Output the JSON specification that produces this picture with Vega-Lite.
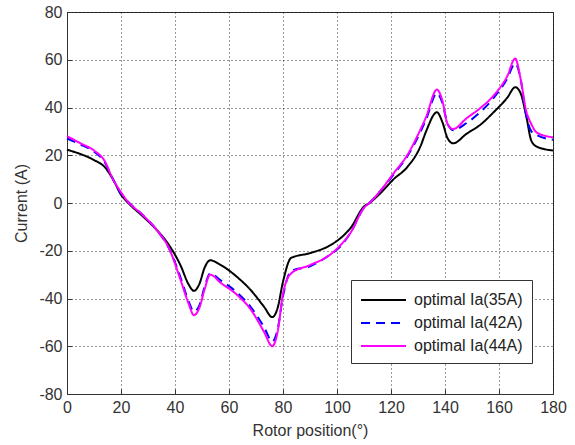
{
  "$schema": "https://vega.github.io/schema/vega-lite/v6.json",
  "autosize": {"type": "none"},
  "padding": {"left": 67, "top": 12, "right": 22, "bottom": 51},
  "width": 486,
  "height": 382,
  "background": "white",
  "config": {
    "font": "Liberation Sans",
    "view": {"stroke": "#333333", "strokeWidth": 1},
    "axis": {
      "labelFont": "Liberation Sans",
      "titleFont": "Liberation Sans",
      "labelFontSize": 16,
      "titleFontSize": 16,
      "titleFontWeight": "normal",
      "labelColor": "#333333",
      "titleColor": "#333333",
      "domainColor": "#333333",
      "tickColor": "#333333",
      "gridColor": "#000000",
      "gridDash": [1, 3],
      "gridOpacity": 0.8,
      "tickSize": -5,
      "labelExpr": "'' + datum.value"
    }
  },
  "data": {
    "values": [
      {"x": 0, "s": "optimal Ia(35A)", "y": 22.3}, {"x": 5, "s": "optimal Ia(35A)", "y": 20.5}, {"x": 10, "s": "optimal Ia(35A)", "y": 18}, {"x": 14, "s": "optimal Ia(35A)", "y": 15}, {"x": 17, "s": "optimal Ia(35A)", "y": 10}, {"x": 20, "s": "optimal Ia(35A)", "y": 3.5}, {"x": 22, "s": "optimal Ia(35A)", "y": 0.8}, {"x": 28, "s": "optimal Ia(35A)", "y": -5.5}, {"x": 33, "s": "optimal Ia(35A)", "y": -11}, {"x": 38, "s": "optimal Ia(35A)", "y": -18}, {"x": 42, "s": "optimal Ia(35A)", "y": -26}, {"x": 45, "s": "optimal Ia(35A)", "y": -34}, {"x": 47, "s": "optimal Ia(35A)", "y": -36.8}, {"x": 49, "s": "optimal Ia(35A)", "y": -34}, {"x": 51, "s": "optimal Ia(35A)", "y": -27}, {"x": 53, "s": "optimal Ia(35A)", "y": -24}, {"x": 57, "s": "optimal Ia(35A)", "y": -26}, {"x": 63, "s": "optimal Ia(35A)", "y": -31}, {"x": 68, "s": "optimal Ia(35A)", "y": -36.4}, {"x": 73, "s": "optimal Ia(35A)", "y": -43.5}, {"x": 76, "s": "optimal Ia(35A)", "y": -47.8}, {"x": 78, "s": "optimal Ia(35A)", "y": -44}, {"x": 80, "s": "optimal Ia(35A)", "y": -33}, {"x": 83, "s": "optimal Ia(35A)", "y": -23}, {"x": 90, "s": "optimal Ia(35A)", "y": -21}, {"x": 97, "s": "optimal Ia(35A)", "y": -18}, {"x": 101, "s": "optimal Ia(35A)", "y": -15}, {"x": 105, "s": "optimal Ia(35A)", "y": -10.5}, {"x": 110, "s": "optimal Ia(35A)", "y": -1.5}, {"x": 112, "s": "optimal Ia(35A)", "y": 0}, {"x": 116, "s": "optimal Ia(35A)", "y": 4}, {"x": 121, "s": "optimal Ia(35A)", "y": 10}, {"x": 126, "s": "optimal Ia(35A)", "y": 15}, {"x": 131, "s": "optimal Ia(35A)", "y": 24}, {"x": 133, "s": "optimal Ia(35A)", "y": 30}, {"x": 137, "s": "optimal Ia(35A)", "y": 38}, {"x": 139, "s": "optimal Ia(35A)", "y": 34}, {"x": 141, "s": "optimal Ia(35A)", "y": 27}, {"x": 143, "s": "optimal Ia(35A)", "y": 25}, {"x": 148, "s": "optimal Ia(35A)", "y": 29}, {"x": 153, "s": "optimal Ia(35A)", "y": 32.7}, {"x": 158, "s": "optimal Ia(35A)", "y": 38}, {"x": 163, "s": "optimal Ia(35A)", "y": 44}, {"x": 166, "s": "optimal Ia(35A)", "y": 48.5}, {"x": 168, "s": "optimal Ia(35A)", "y": 46}, {"x": 170, "s": "optimal Ia(35A)", "y": 37}, {"x": 172, "s": "optimal Ia(35A)", "y": 26}, {"x": 174, "s": "optimal Ia(35A)", "y": 23.6}, {"x": 180, "s": "optimal Ia(35A)", "y": 22},

      {"x": 0, "s": "optimal Ia(42A)", "y": 27}, {"x": 5, "s": "optimal Ia(42A)", "y": 24.5}, {"x": 10, "s": "optimal Ia(42A)", "y": 21.5}, {"x": 14, "s": "optimal Ia(42A)", "y": 17}, {"x": 17, "s": "optimal Ia(42A)", "y": 10}, {"x": 20, "s": "optimal Ia(42A)", "y": 4}, {"x": 22, "s": "optimal Ia(42A)", "y": 1.3}, {"x": 28, "s": "optimal Ia(42A)", "y": -5}, {"x": 33, "s": "optimal Ia(42A)", "y": -11}, {"x": 38, "s": "optimal Ia(42A)", "y": -19.5}, {"x": 42, "s": "optimal Ia(42A)", "y": -31}, {"x": 45, "s": "optimal Ia(42A)", "y": -41}, {"x": 47, "s": "optimal Ia(42A)", "y": -45.5}, {"x": 49, "s": "optimal Ia(42A)", "y": -43}, {"x": 51, "s": "optimal Ia(42A)", "y": -35}, {"x": 53, "s": "optimal Ia(42A)", "y": -29.5}, {"x": 57, "s": "optimal Ia(42A)", "y": -32.5}, {"x": 63, "s": "optimal Ia(42A)", "y": -37.5}, {"x": 68, "s": "optimal Ia(42A)", "y": -43.5}, {"x": 73, "s": "optimal Ia(42A)", "y": -52}, {"x": 76, "s": "optimal Ia(42A)", "y": -58}, {"x": 78, "s": "optimal Ia(42A)", "y": -53}, {"x": 80, "s": "optimal Ia(42A)", "y": -39}, {"x": 83, "s": "optimal Ia(42A)", "y": -28.5}, {"x": 90, "s": "optimal Ia(42A)", "y": -26.5}, {"x": 97, "s": "optimal Ia(42A)", "y": -22}, {"x": 101, "s": "optimal Ia(42A)", "y": -18.5}, {"x": 105, "s": "optimal Ia(42A)", "y": -12.5}, {"x": 110, "s": "optimal Ia(42A)", "y": -2}, {"x": 112, "s": "optimal Ia(42A)", "y": 0}, {"x": 116, "s": "optimal Ia(42A)", "y": 5}, {"x": 121, "s": "optimal Ia(42A)", "y": 12}, {"x": 126, "s": "optimal Ia(42A)", "y": 19.5}, {"x": 131, "s": "optimal Ia(42A)", "y": 30}, {"x": 133, "s": "optimal Ia(42A)", "y": 35}, {"x": 137, "s": "optimal Ia(42A)", "y": 46}, {"x": 139, "s": "optimal Ia(42A)", "y": 42}, {"x": 141, "s": "optimal Ia(42A)", "y": 33}, {"x": 143, "s": "optimal Ia(42A)", "y": 30.5}, {"x": 148, "s": "optimal Ia(42A)", "y": 33.5}, {"x": 153, "s": "optimal Ia(42A)", "y": 38}, {"x": 158, "s": "optimal Ia(42A)", "y": 44}, {"x": 163, "s": "optimal Ia(42A)", "y": 52}, {"x": 166, "s": "optimal Ia(42A)", "y": 58.5}, {"x": 168, "s": "optimal Ia(42A)", "y": 52}, {"x": 170, "s": "optimal Ia(42A)", "y": 37}, {"x": 172, "s": "optimal Ia(42A)", "y": 30}, {"x": 174, "s": "optimal Ia(42A)", "y": 28.5}, {"x": 180, "s": "optimal Ia(42A)", "y": 26.5},

      {"x": 0, "s": "optimal Ia(44A)", "y": 28}, {"x": 5, "s": "optimal Ia(44A)", "y": 25}, {"x": 10, "s": "optimal Ia(44A)", "y": 22}, {"x": 14, "s": "optimal Ia(44A)", "y": 17.5}, {"x": 17, "s": "optimal Ia(44A)", "y": 10}, {"x": 20, "s": "optimal Ia(44A)", "y": 4.5}, {"x": 22, "s": "optimal Ia(44A)", "y": 1.3}, {"x": 28, "s": "optimal Ia(44A)", "y": -5}, {"x": 33, "s": "optimal Ia(44A)", "y": -11}, {"x": 38, "s": "optimal Ia(44A)", "y": -19.5}, {"x": 42, "s": "optimal Ia(44A)", "y": -32}, {"x": 45, "s": "optimal Ia(44A)", "y": -42}, {"x": 47, "s": "optimal Ia(44A)", "y": -47}, {"x": 49, "s": "optimal Ia(44A)", "y": -44}, {"x": 51, "s": "optimal Ia(44A)", "y": -36}, {"x": 53, "s": "optimal Ia(44A)", "y": -30}, {"x": 57, "s": "optimal Ia(44A)", "y": -33.5}, {"x": 63, "s": "optimal Ia(44A)", "y": -38.5}, {"x": 68, "s": "optimal Ia(44A)", "y": -44.5}, {"x": 73, "s": "optimal Ia(44A)", "y": -54}, {"x": 76, "s": "optimal Ia(44A)", "y": -60}, {"x": 78, "s": "optimal Ia(44A)", "y": -54}, {"x": 80, "s": "optimal Ia(44A)", "y": -38}, {"x": 83, "s": "optimal Ia(44A)", "y": -29.5}, {"x": 90, "s": "optimal Ia(44A)", "y": -26}, {"x": 97, "s": "optimal Ia(44A)", "y": -22}, {"x": 101, "s": "optimal Ia(44A)", "y": -18}, {"x": 105, "s": "optimal Ia(44A)", "y": -12.5}, {"x": 110, "s": "optimal Ia(44A)", "y": -2}, {"x": 112, "s": "optimal Ia(44A)", "y": 0}, {"x": 116, "s": "optimal Ia(44A)", "y": 5}, {"x": 121, "s": "optimal Ia(44A)", "y": 12.5}, {"x": 126, "s": "optimal Ia(44A)", "y": 20}, {"x": 131, "s": "optimal Ia(44A)", "y": 31}, {"x": 133, "s": "optimal Ia(44A)", "y": 36}, {"x": 137, "s": "optimal Ia(44A)", "y": 47.5}, {"x": 139, "s": "optimal Ia(44A)", "y": 43}, {"x": 141, "s": "optimal Ia(44A)", "y": 33}, {"x": 143, "s": "optimal Ia(44A)", "y": 31}, {"x": 148, "s": "optimal Ia(44A)", "y": 35.5}, {"x": 153, "s": "optimal Ia(44A)", "y": 39.7}, {"x": 158, "s": "optimal Ia(44A)", "y": 45}, {"x": 163, "s": "optimal Ia(44A)", "y": 53}, {"x": 166, "s": "optimal Ia(44A)", "y": 60.5}, {"x": 168, "s": "optimal Ia(44A)", "y": 52}, {"x": 170, "s": "optimal Ia(44A)", "y": 39}, {"x": 172, "s": "optimal Ia(44A)", "y": 33}, {"x": 174, "s": "optimal Ia(44A)", "y": 29.5}, {"x": 180, "s": "optimal Ia(44A)", "y": 27.5}
    ]
  },
  "mark": {"type": "line", "strokeWidth": 2, "interpolate": "monotone"},
  "encoding": {
    "x": {
      "field": "x", "type": "quantitative",
      "scale": {"domain": [0, 180], "nice": false, "zero": false},
      "axis": {"title": "Rotor position(°)", "values": [0, 20, 40, 60, 80, 100, 120, 140, 160, 180], "labelPadding": 10, "titlePadding": 7, "grid": true, "labelFlush": false}
    },
    "y": {
      "field": "y", "type": "quantitative",
      "scale": {"domain": [-80, 80], "nice": false, "zero": false},
      "axis": {"title": "Current (A)", "values": [-80, -60, -40, -20, 0, 20, 40, 60, 80], "labelPadding": 10, "titlePadding": 9, "grid": true, "labelFlush": false}
    },
    "color": {
      "field": "s", "type": "nominal",
      "scale": {"domain": ["optimal Ia(35A)", "optimal Ia(42A)", "optimal Ia(44A)"], "range": ["#000000", "#0000ff", "#ff00ff"]},
      "legend": {
        "title": null, "orient": "none", "legendX": 284, "legendY": 268,
        "symbolType": "M-1,0H3.5", "symbolSize": 400, "symbolStrokeWidth": 2,
        "labelFontSize": 16, "labelFont": "Liberation Sans", "labelColor": "#222222",
        "strokeColor": "#333333", "fillColor": "white", "padding": 9, "rowPadding": 4, "labelOffset": 32
      }
    },
    "strokeDash": {
      "field": "s", "type": "nominal",
      "scale": {"domain": ["optimal Ia(35A)", "optimal Ia(42A)", "optimal Ia(44A)"], "range": [[1, 0], [9, 6], [1, 0]]},
      "legend": {
        "title": null, "orient": "none", "legendX": 284, "legendY": 268,
        "symbolType": "M-1,0H3.5", "symbolSize": 400, "symbolStrokeWidth": 2,
        "labelFontSize": 16, "labelFont": "Liberation Sans", "labelColor": "#222222",
        "strokeColor": "#333333", "fillColor": "white", "padding": 9, "rowPadding": 4, "labelOffset": 32
      }
    }
  }
}
